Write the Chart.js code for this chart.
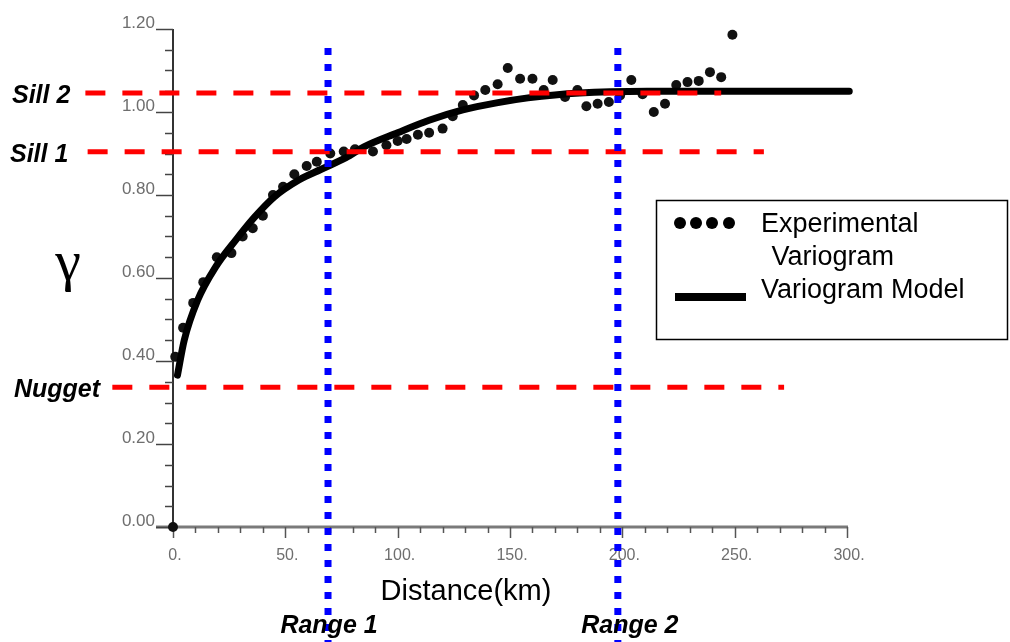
<!DOCTYPE html>
<html>
<head>
<meta charset="utf-8">
<script src="https://cdn.jsdelivr.net/npm/chart.js@4.4.1/dist/chart.umd.min.js"></script>
<style>
  html, body { margin: 0; padding: 0; background: #fff; }
  #wrap { width: 1010px; height: 642px; }
</style>
</head>
<body>
<div id="wrap"><canvas id="variogram" width="1010" height="642"></canvas></div>
<script>
// Experimental variogram (distance km, gamma)
const expX = [0, 1, 4.5, 9, 13.5, 19.5, 26, 31, 35.5, 40, 44.5, 49, 54, 59.5, 64, 70, 76, 81, 89, 95,
  100, 104, 109, 114, 120, 124.5, 129, 134, 139, 144.5, 149, 154.5, 160, 165, 169, 174.5, 180, 184, 189, 194,
  199, 204, 209, 214, 219, 224, 229, 234, 239, 244, 249];
const expY = [0, 0.41, 0.48, 0.54, 0.59, 0.65, 0.66, 0.70, 0.72, 0.75, 0.80, 0.82, 0.85, 0.87, 0.88, 0.90, 0.905, 0.91, 0.905, 0.92,
  0.93, 0.935, 0.945, 0.95, 0.96, 0.99, 1.017, 1.04, 1.053, 1.067, 1.106, 1.08, 1.08, 1.053, 1.077, 1.036, 1.053, 1.014, 1.02, 1.024,
  1.04, 1.077, 1.043, 1.0, 1.02, 1.065, 1.072, 1.075, 1.096, 1.084, 1.186];

// Variogram model curve
const modelX = [2, 5, 11, 19, 28, 36, 45, 56, 66, 77, 85, 100, 114, 129, 144, 158, 181, 211, 240, 270, 301];
const modelY = [0.366, 0.45, 0.547, 0.627, 0.692, 0.745, 0.795, 0.836, 0.862, 0.89, 0.916, 0.95, 0.98, 1.005, 1.022, 1.034, 1.046, 1.05, 1.05, 1.05, 1.05];

// Horizontal reference lines (sill / nugget)
const hLabels = ['Sill 2', 'Sill 1', 'Nugget'];
const hValues = [1.046, 0.904, 0.337];
const hStartX = [-39, -38, -27];
const hEndX = [244, 263, 272];

// Vertical range lines
const rangeLabels = ['Range 1', 'Range 2'];
const rangeValues = [69, 198];
const rangeTopY = 1.154;
const rangeBottomY = -0.28;

// Axis ticks
const xTickValues = [0, 50, 100, 150, 200, 250, 300];
const xTickLabels = ['0.', '50.', '100.', '150.', '200.', '250.', '300.'];
const yTickValues = [0, 0.2, 0.4, 0.6, 0.8, 1.0, 1.2];
const yTickLabels = ['0.00', '0.20', '0.40', '0.60', '0.80', '1.00', '1.20'];

const SANS = '"Liberation Sans", Arial, Helvetica, sans-serif';

const datasets = [];

// blue dotted ranges (on top)
rangeValues.forEach(v => {
  datasets.push({
    data: [{ x: v, y: rangeTopY }, { x: v, y: rangeBottomY }],
    showLine: true, pointRadius: 0, borderColor: '#0000ff', borderWidth: 7,
    borderDash: [7, 9], borderCapStyle: 'butt', clip: false, order: 0
  });
});

// red dashed sill / nugget lines
hValues.forEach((v, i) => {
  datasets.push({
    data: [{ x: hStartX[i], y: v }, { x: hEndX[i], y: v }],
    showLine: true, pointRadius: 0, borderColor: '#ff0000', borderWidth: 5,
    borderDash: [20, 17], borderCapStyle: 'butt', clip: false, order: 1
  });
});

datasets.push({
  label: 'Variogram Model',
  data: modelX.map((x, i) => ({ x, y: modelY[i] })),
  showLine: true, pointRadius: 0, borderColor: '#000', borderWidth: 7,
  borderCapStyle: 'round', cubicInterpolationMode: 'monotone', clip: false, order: 2
});

datasets.push({
  label: 'Experimental Variogram',
  data: expX.map((x, i) => ({ x, y: expY[i] })),
  showLine: false, pointRadius: 5, pointBackgroundColor: '#111', pointBorderWidth: 0,
  clip: false, order: 3
});

const axesPlugin = {
  id: 'axesPlugin',
  beforeDatasetsDraw(chart) {
    const { ctx, scales: { x, y } } = chart;
    const x0 = x.getPixelForValue(0);
    const y0 = y.getPixelForValue(0);
    const xEnd = x.getPixelForValue(300);
    const yTop = y.getPixelForValue(1.2);
    ctx.save();

    // x axis
    ctx.strokeStyle = '#7a7a7a';
    ctx.lineWidth = 3;
    ctx.beginPath();
    ctx.moveTo(x0 - 17, y0);
    ctx.lineTo(xEnd + 1, y0);
    ctx.stroke();
    ctx.strokeStyle = '#555';
    ctx.lineWidth = 1.5;
    for (let v = 0; v <= 300; v += 10) {
      const px = Math.round(x.getPixelForValue(v)) + 0.5;
      const len = v % 50 === 0 ? 11 : 6;
      ctx.beginPath();
      ctx.moveTo(px, y0);
      ctx.lineTo(px, y0 + len);
      ctx.stroke();
    }

    // y axis
    ctx.strokeStyle = '#333';
    ctx.lineWidth = 2;
    ctx.beginPath();
    ctx.moveTo(x0, y0);
    ctx.lineTo(x0, yTop);
    ctx.stroke();
    ctx.strokeStyle = '#444';
    ctx.lineWidth = 1.5;
    for (let k = 0; k <= 24; k++) {
      const py = Math.round(y.getPixelForValue(k * 0.05)) + 0.5;
      const len = k % 4 === 0 ? 17 : 8;
      ctx.beginPath();
      ctx.moveTo(x0 - len, py);
      ctx.lineTo(x0, py);
      ctx.stroke();
    }

    // tick labels
    ctx.fillStyle = '#6e6e6e';
    ctx.font = '17px ' + SANS;
    ctx.textAlign = 'right';
    ctx.textBaseline = 'alphabetic';
    yTickValues.forEach((v, i) => {
      ctx.fillText(yTickLabels[i], x0 - 18, y.getPixelForValue(v) - 1);
    });
    ctx.textAlign = 'center';
    ctx.font = '16px ' + SANS;
    xTickValues.forEach((v, i) => {
      ctx.fillText(xTickLabels[i], x.getPixelForValue(v) + 2, y0 + 33);
    });
    ctx.restore();
  },
  afterDraw(chart) {
    const { ctx, scales: { x, y } } = chart;
    ctx.save();
    ctx.fillStyle = '#000';

    // sill / nugget labels
    ctx.font = 'italic bold 25px ' + SANS;
    ctx.textAlign = 'left';
    ctx.textBaseline = 'alphabetic';
    const hLabelX = [12, 10, 14];
    hLabels.forEach((t, i) => {
      ctx.fillText(t, hLabelX[i], y.getPixelForValue(hValues[i]) + 10);
    });

    // range labels
    ctx.textAlign = 'center';
    const rangeShift = [1, 12];
    rangeLabels.forEach((t, i) => {
      ctx.fillText(t, x.getPixelForValue(rangeValues[i]) + rangeShift[i], 633);
    });

    // axis titles
    ctx.font = '29px ' + SANS;
    ctx.fillText('Distance(km)', 466, 600);
    ctx.font = '58px "Liberation Serif", "Times New Roman", serif';
    ctx.fillText('\u03b3', 68, 280);

    // legend box
    ctx.strokeStyle = '#000';
    ctx.lineWidth = 1.5;
    ctx.strokeRect(656.5, 200.5, 351, 139);
    [680, 696, 712, 729].forEach(cx => {
      ctx.beginPath();
      ctx.arc(cx, 223, 6, 0, Math.PI * 2);
      ctx.fill();
    });
    ctx.fillRect(675, 293, 71, 8);
    ctx.font = '27px ' + SANS;
    ctx.textAlign = 'left';
    ctx.fillText('Experimental', 761, 232);
    ctx.fillText(' Variogram', 764, 265);
    ctx.fillText('Variogram Model', 761, 298);
    ctx.restore();
  }
};

new Chart(document.getElementById('variogram'), {
  type: 'scatter',
  data: { datasets },
  options: {
    responsive: false,
    animation: false,
    devicePixelRatio: 1,
    layout: { padding: { left: 173, top: 29, right: 163, bottom: 115 } },
    scales: {
      x: { type: 'linear', min: 0, max: 300, display: false },
      y: { type: 'linear', min: 0, max: 1.2, display: false }
    },
    plugins: { legend: { display: false }, tooltip: { enabled: false } }
  },
  plugins: [axesPlugin]
});
</script>
</body>
</html>
